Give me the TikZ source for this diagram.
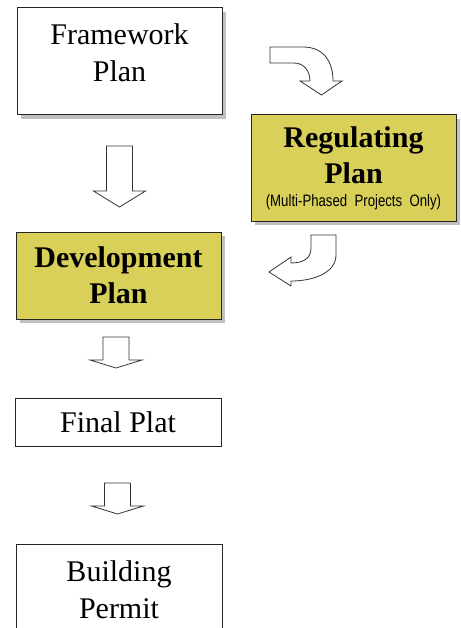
\documentclass[tikz,border=0pt]{standalone}
\usepackage{fontspec}
\usepackage{graphicx}
\setmainfont{Liberation Serif}
\newfontfamily\labelsans{Liberation Sans}
\usetikzlibrary{shadows}
\definecolor{planyellow}{RGB}{216,208,88}

\begin{document}
\begin{tikzpicture}[x=1pt,y=-1pt,
    box/.style={draw=black!85,line width=1pt,fill=white,inner sep=0pt},
    shadowed/.style={drop shadow={shadow xshift=4pt,shadow yshift=-4pt,fill=black!45,opacity=0.55}},
    yellowbox/.style={box,shadowed,fill=planyellow,font=\fontsize{30}{36}\selectfont\bfseries,align=center},
    blockarrow/.style={draw=black!80,line width=0.8pt,fill=white,line join=miter}]
    \useasboundingbox (0,0) rectangle (460,628);

    \node[box,shadowed,minimum width=205pt,minimum height=107pt] (frame) at (119.5,61.5) {};
    \node[font=\fontsize{30}{37}\selectfont,align=center] (frametext) at ([yshift=9pt]frame.center) {Framework\\Plan};

    \node[yellowbox,minimum width=205pt,minimum height=106pt] (regulating) at (353.5,168)
        {Regulating\\Plan\\[-13pt]{\labelsans\mdseries\fontsize{16.5}{16.5}\selectfont\scalebox{0.8}[1]{(Multi-Phased\ \ Projects\ \ Only)}}};

    \node[yellowbox,minimum width=205pt,minimum height=87pt] (development) at (118.5,275.5) {Development\\Plan};

    \node[box,minimum width=206pt,minimum height=48pt,font=\fontsize{30}{36}\selectfont] (finalplat) at (118,422) {Final Plat};

    \node[box,minimum width=206pt,minimum height=92pt,font=\fontsize{30}{37}\selectfont,align=center] (building) at (119,590) {Building\\Permit};

    % straight block arrows
    \foreach \x/\ytop/\yhead/\ytip in {119.5/146/191/207, 116/337/360/368, 117.5/483/506/514}{
        \draw[blockarrow] (\x-13,\ytop) -- (\x+13,\ytop) -- (\x+13,\yhead) -- (\x+26,\yhead)
            -- (\x,\ytip) -- (\x-26,\yhead) -- (\x-13,\yhead) -- cycle;
    }

    % bent arrows to and from the regulating plan
    \draw[blockarrow] (270,47) -- (303,47) .. controls (324,47) and (333,62) .. (333,81) -- (342,81)
        -- (321.5,95) -- (300,81) -- (310,81) .. controls (310,71) and (304,63) .. (294,63) -- (270,63) -- cycle;
    \draw[blockarrow] (311,235) -- (336,235) -- (336,255) .. controls (336,272) and (315,281) .. (291,281)
        -- (291,286) -- (269,272) -- (291,257) -- (291,263) .. controls (304,263) and (311,258) .. (311,248) -- cycle;
\end{tikzpicture}
\end{document}
